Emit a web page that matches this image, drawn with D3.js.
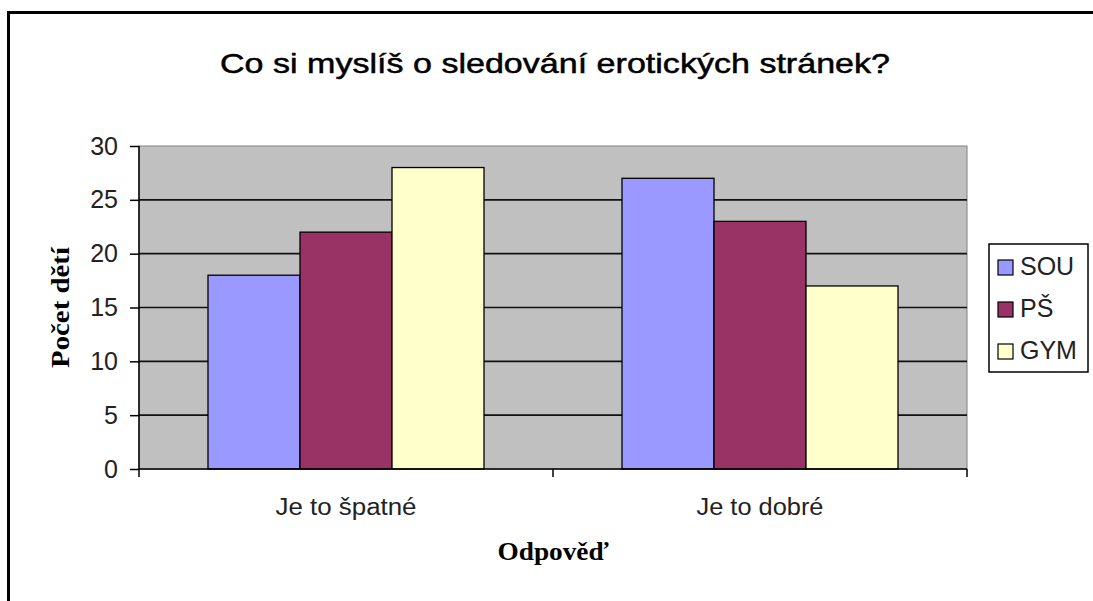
<!DOCTYPE html>
<html>
<head>
<meta charset="utf-8">
<script src="https://cdn.jsdelivr.net/npm/d3@7"></script>
<style>
  body { margin: 0; background: #fff; overflow: hidden; }
  svg { display: block; }
</style>
</head>
<body>
<script>
const title = "Co si myslíš o sledování erotických stránek?";
const categories = ["Je to špatné", "Je to dobré"];
const series = ["SOU", "PŠ", "GYM"];
const sou = [18, 27];
const ps = [22, 23];
const gym = [28, 17];
const yTicks = [0, 5, 10, 15, 20, 25, 30];
const yLabel = "Počet dětí";
const xLabel = "Odpověď";

const values = [sou, ps, gym];
const colors = ["#9999FF", "#993366", "#FFFFCC"];

const width = 1093, height = 601;
const marginLeft = 139, marginRight = 126, marginTop = 146, marginBottom = 132;

const svg = d3.select("body").append("svg")
    .attr("width", width)
    .attr("height", height);

// outer chart frame (runs past the right and bottom edges)
svg.append("rect")
    .attr("x", 8.5).attr("y", 12.5)
    .attr("width", width + 40).attr("height", height + 40)
    .attr("fill", "#fff")
    .attr("stroke", "#000")
    .attr("stroke-width", 3);

const x0 = d3.scaleBand()
    .domain(categories)
    .range([marginLeft, width - marginRight])
    .padding(0);

const x1 = d3.scaleBand()
    .domain(series)
    .range([0, x0.bandwidth()])
    .paddingInner(0)
    .paddingOuter(0.75);

const y = d3.scaleLinear()
    .domain([0, 30])
    .range([height - marginBottom, marginTop]);

// plot area
svg.append("rect")
    .attr("x", x0.range()[0]).attr("y", y(30))
    .attr("width", x0.range()[1] - x0.range()[0])
    .attr("height", y(0) - y(30))
    .attr("fill", "#C0C0C0")
    .attr("stroke", "#808080")
    .attr("stroke-width", 1);

// gridlines
svg.append("g")
    .selectAll("line")
    .data(yTicks.filter(d => d > 0 && d < 30))
    .join("line")
    .attr("x1", x0.range()[0]).attr("x2", x0.range()[1])
    .attr("y1", d => y(d)).attr("y2", d => y(d))
    .attr("stroke", "#111")
    .attr("stroke-width", 1.7);

// bars
const rows = [];
categories.forEach((c, i) => series.forEach((s, j) => rows.push({cat: c, ser: s, value: values[j][i], color: colors[j]})));

svg.append("g")
    .selectAll("rect")
    .data(rows)
    .join("rect")
    .attr("x", d => x0(d.cat) + x1(d.ser))
    .attr("y", d => y(d.value))
    .attr("width", x1.bandwidth())
    .attr("height", d => y(0) - y(d.value))
    .attr("fill", d => d.color)
    .attr("stroke", "#000")
    .attr("stroke-width", 1.3);

// y axis
const yAxis = svg.append("g")
    .attr("transform", `translate(${marginLeft},0)`)
    .call(d3.axisLeft(y).tickValues(yTicks).tickSize(9).tickPadding(12));
yAxis.select(".domain").attr("stroke", "#000").attr("stroke-width", 1.5).attr("d", `M0,${y(30)}V${y(0) + 8}`);
yAxis.selectAll(".tick line").attr("stroke", "#000").attr("stroke-width", 1.5);
yAxis.selectAll(".tick text")
    .attr("font-family", "Liberation Sans, Arial, sans-serif")
    .attr("font-size", 25)
    .attr("fill", "#222");

// x axis
const xAxis = svg.append("g")
    .attr("transform", `translate(0,${y(0)})`);
xAxis.append("line")
    .attr("x1", x0.range()[0]).attr("x2", x0.range()[1])
    .attr("stroke", "#000").attr("stroke-width", 1.5);
xAxis.selectAll(".sep")
    .data(categories)
    .join("line")
    .attr("class", "sep")
    .attr("x1", d => x0(d) + x0.bandwidth()).attr("x2", d => x0(d) + x0.bandwidth())
    .attr("y1", 0).attr("y2", 8)
    .attr("stroke", "#000").attr("stroke-width", 1.5);
xAxis.selectAll(".cat")
    .data(categories)
    .join("text")
    .attr("class", "cat")
    .attr("x", d => x0(d) + x0.bandwidth() / 2)
    .attr("y", 46)
    .attr("text-anchor", "middle")
    .attr("font-family", "Liberation Sans, Arial, sans-serif")
    .attr("font-size", 23)
    .attr("fill", "#222")
    .attr("textLength", (d, i) => i === 0 ? 141 : 127)
    .attr("lengthAdjust", "spacingAndGlyphs")
    .text(d => d);

// title
svg.append("text")
    .attr("x", 555).attr("y", 73)
    .attr("text-anchor", "middle")
    .attr("font-family", "Liberation Sans, Arial, sans-serif")
    .attr("font-size", 28)
    .attr("textLength", 670)
    .attr("lengthAdjust", "spacingAndGlyphs")
    .attr("stroke", "#000")
    .attr("stroke-width", 0.5)
    .text(title);

// axis titles
svg.append("text")
    .attr("x", (x0.range()[0] + x0.range()[1]) / 2).attr("y", 560)
    .attr("text-anchor", "middle")
    .attr("font-family", "Liberation Serif, Times New Roman, serif")
    .attr("font-size", 25)
    .attr("font-weight", "bold")
    .attr("textLength", 111)
    .attr("lengthAdjust", "spacingAndGlyphs")
    .text(xLabel);

svg.append("text")
    .attr("transform", `translate(69,${(y(0) + y(30)) / 2}) rotate(-90)`)
    .attr("text-anchor", "middle")
    .attr("font-family", "Liberation Serif, Times New Roman, serif")
    .attr("font-size", 25)
    .attr("font-weight", "bold")
    .attr("textLength", 121)
    .attr("lengthAdjust", "spacingAndGlyphs")
    .text(yLabel);

// legend
const legend = svg.append("g").attr("transform", "translate(989,244)");
legend.append("rect")
    .attr("x", 0).attr("y", 0).attr("width", 99).attr("height", 128)
    .attr("fill", "#fff").attr("stroke", "#000").attr("stroke-width", 1.5);
const item = legend.selectAll(".item")
    .data(series)
    .join("g")
    .attr("class", "item")
    .attr("transform", (d, i) => `translate(9,${16 + i * 42})`);
item.append("rect")
    .attr("width", 15).attr("height", 15)
    .attr("fill", (d, i) => colors[i])
    .attr("stroke", "#000").attr("stroke-width", 1.2);
item.append("text")
    .attr("x", 22).attr("y", 15)
    .attr("font-family", "Liberation Sans, Arial, sans-serif")
    .attr("font-size", 25)
    .attr("fill", "#222")
    .text(d => d);
</script>
</body>
</html>
